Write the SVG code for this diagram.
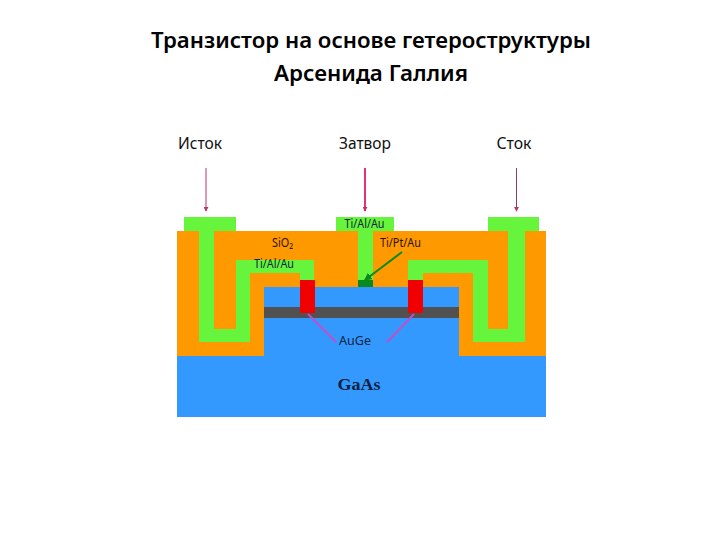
<svg xmlns="http://www.w3.org/2000/svg" width="720" height="540" viewBox="0 0 720 540">
<defs>
<marker id="tip" viewBox="0 0 6 6" refX="5" refY="3" markerWidth="5" markerHeight="5" orient="auto-start-reverse" markerUnits="userSpaceOnUse"><path d="M0 0L6 3L0 6Z" fill="#c0306a"/></marker>
<marker id="tipg" viewBox="0 0 6 6" refX="5" refY="3" markerWidth="8" markerHeight="8" orient="auto" markerUnits="userSpaceOnUse"><path d="M0 0L6 3L0 6Z" fill="#0a8a1e"/></marker>
</defs>
<style>
text{font-family:"Noto Sans","Open Sans","DejaVu Sans",sans-serif;text-anchor:middle}
.t{font-size:21px;font-weight:600;fill:#000}
.l{font-size:17px;fill:#111}
.s{font-size:12px;fill:#10243c}
.g{fill:#66f53c}
.r{fill:#f00000}
.p{stroke:#c24fc6;stroke-width:2;fill:none}
</style>
<rect width="720" height="540" fill="#fff"/>
<g id="title">
<text class="t" x="371" y="48" textLength="440" lengthAdjust="spacingAndGlyphs">Транзистор на основе гетероструктуры</text>
<text class="t" x="371" y="81" textLength="194" lengthAdjust="spacingAndGlyphs">Арсенида Галлия</text>
</g>
<g id="substrate">
<rect x="177" y="356" width="369" height="61" fill="#3399ff"/>
</g>
<g id="oxide">
<rect x="177" y="231" width="369" height="125" fill="#ff9900"/>
</g>
<g id="mesa">
<rect x="264" y="287" width="195" height="69" fill="#3399ff"/>
<rect x="264" y="307" width="195" height="11" fill="#515151"/>
</g>
<g id="source-contact">
<path class="g" d="M184 217H236V231H214V329H236V260H314V280H300V273H250V342H199V231H184Z"/>
<rect class="r" x="300" y="280" width="15" height="33"/>
</g>
<g id="gate-contact">
<path class="g" d="M336 217H394V231H373V280H358V231H336Z"/>
<rect x="358" y="280" width="15" height="7" fill="#0a8a1e"/>
</g>
<g id="drain-contact">
<path class="g" d="M488 217H539V231H525V342H473V273H423V280H408V260H488V329H508V231H488Z"/>
<rect class="r" x="408" y="280" width="15" height="33"/>
</g>
<g id="connectors">
<line x1="206" y1="168" x2="206" y2="211" stroke="#c0306a" stroke-width="1" marker-end="url(#tip)"/>
<line x1="365" y1="168" x2="365" y2="211" stroke="#e8307a" stroke-width="2" marker-end="url(#tip)"/>
<line x1="516.500" y1="168" x2="516.500" y2="211" stroke="#8a4060" stroke-width="1" marker-end="url(#tip)"/>
<line x1="402" y1="252" x2="365" y2="280" stroke="#0a8a1e" stroke-width="2" marker-end="url(#tipg)"/>
<line class="p" x1="308" y1="314" x2="336" y2="342"/>
<line class="p" x1="414" y1="314" x2="387" y2="342"/>
</g>
<g id="labels">
<text class="l" x="200" y="149" textLength="44" lengthAdjust="spacingAndGlyphs">Исток</text>
<text class="l" x="365" y="149" textLength="52" lengthAdjust="spacingAndGlyphs">Затвор</text>
<text class="l" x="514" y="149" textLength="35" lengthAdjust="spacingAndGlyphs">Сток</text>
<text class="s" x="364.500" y="228" textLength="40" lengthAdjust="spacingAndGlyphs">Ti/Al/Au</text>
<text class="s" x="282.500" y="247" textLength="21" lengthAdjust="spacingAndGlyphs" style="fill:#301000">SiO₂</text>
<text class="s" x="400.500" y="247" textLength="41" lengthAdjust="spacingAndGlyphs" style="fill:#301000">Ti/Pt/Au</text>
<text class="s" x="274" y="268" textLength="40" lengthAdjust="spacingAndGlyphs">Ti/Al/Au</text>
<text class="s" x="355" y="345" textLength="32" lengthAdjust="spacingAndGlyphs">AuGe</text>
<text x="359" y="390" textLength="43" lengthAdjust="spacingAndGlyphs" style="font-family:'Liberation Serif',serif;font-weight:700;font-size:17px;fill:#0a2040">GaAs</text>
</g>
</svg>
